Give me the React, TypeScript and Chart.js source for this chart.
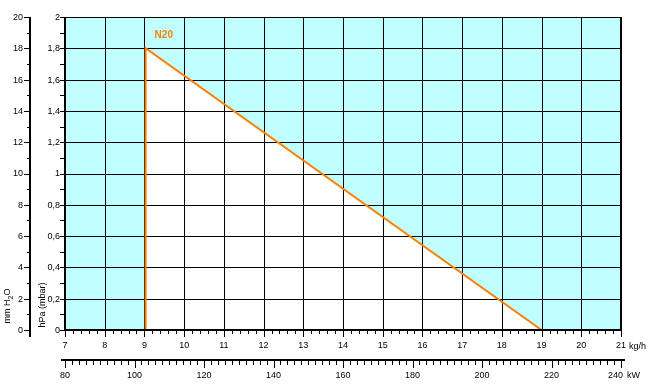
import React, { useEffect, useRef } from "react";
import { Chart, registerables } from "chart.js";

Chart.register(...registerables);

// ---- data ----
const seriesName = "N20";
const flowKgh = [9.03, 9.03, 19];
const pressureHpa = [0, 1.8, 0];

const kghTickLabels = ["7", "8", "9", "10", "11", "12", "13", "14", "15", "16", "17", "18", "19", "20", "21"];
const kwTickLabels = ["80", "100", "120", "140", "160", "180", "200", "220", "240"];
const hpaTickLabels = ["0", "0,2", "0,4", "0,6", "0,8", "1", "1,2", "1,4", "1,6", "1,8", "2"];
const mmTickLabels = ["0", "2", "4", "6", "8", "10", "12", "14", "16", "18", "20"];

const kghUnit = "kg/h";
const kwUnit = "kW";
const hpaTitle = "hPa (mbar)";

const CYAN = "#c0ffff";
const ORANGE = "#ff8000";
const FONT = "'Liberation Sans', Arial, sans-serif";

const num = (s: string) => Number(s.replace(",", "."));

const crisp = (v: number) => Math.round(v) + 0.5;

const customPlugin = {
  id: "customAxes",
  beforeDatasetsDraw(chart: any) {
    const { ctx, chartArea: a } = chart;
    ctx.save();
    ctx.fillStyle = CYAN;
    ctx.fillRect(a.left, a.top, a.right - a.left, a.bottom - a.top);
    ctx.restore();
  },
  afterDatasetDraw(chart: any, args: any) {
    if (args.index !== 0) return;
    const { ctx, chartArea: a } = chart;
    const xs = chart.scales.x;
    const ys = chart.scales.y;
    ctx.save();
    ctx.strokeStyle = "#000";
    ctx.lineWidth = 1;
    ctx.beginPath();
    kghTickLabels.forEach((l) => {
      const v = num(l);
      if (v === xs.min || v === xs.max) return;
      const px = crisp(xs.getPixelForValue(v));
      ctx.moveTo(px, a.top);
      ctx.lineTo(px, a.bottom);
    });
    hpaTickLabels.forEach((l) => {
      const v = num(l);
      if (v === ys.min) return;
      const py = crisp(ys.getPixelForValue(v));
      ctx.moveTo(a.left, py);
      ctx.lineTo(a.right, py);
    });
    ctx.stroke();
    // right border
    ctx.lineWidth = 2;
    ctx.beginPath();
    const rx = Math.round(xs.getPixelForValue(xs.max));
    ctx.moveTo(rx, a.top);
    ctx.lineTo(rx, a.bottom);
    ctx.stroke();
    ctx.restore();
  },
  afterDraw(chart: any) {
    const { ctx, chartArea: a } = chart;
    const xs = chart.scales.x;
    const xk = chart.scales.xKw;
    const ys = chart.scales.y;
    const ym = chart.scales.yMm;
    ctx.save();
    ctx.strokeStyle = "#000";
    ctx.fillStyle = "#000";
    ctx.font = `9px ${FONT}`;

    // hPa axis
    const hx = Math.round(a.left);
    ctx.lineWidth = 2;
    ctx.beginPath();
    ctx.moveTo(hx, a.top);
    ctx.lineTo(hx, a.bottom + 1);
    ctx.stroke();
    ctx.lineWidth = 1;
    ctx.beginPath();
    for (let v = ys.min; v <= ys.max + 1e-9; v += 0.1) {
      const py = crisp(ys.getPixelForValue(v));
      ctx.moveTo(hx - 5, py);
      ctx.lineTo(hx, py);
    }
    ctx.stroke();
    ctx.textAlign = "right";
    ctx.textBaseline = "middle";
    hpaTickLabels.forEach((l) => {
      ctx.fillText(l, hx - 5, ys.getPixelForValue(num(l)) + 0.5);
    });

    // mm H2O axis
    const mx = Math.round(a.left - 35);
    ctx.lineWidth = 2;
    ctx.beginPath();
    ctx.moveTo(mx, a.top);
    ctx.lineTo(mx, a.bottom + 7);
    ctx.stroke();
    ctx.lineWidth = 1;
    ctx.beginPath();
    for (let v = ym.min; v <= ym.max + 1e-9; v += 1) {
      const py = crisp(ym.getPixelForValue(v));
      const len = Math.round(v) % 2 === 0 ? 6 : 3;
      ctx.moveTo(mx - len, py);
      ctx.lineTo(mx, py);
    }
    ctx.stroke();
    mmTickLabels.forEach((l) => {
      ctx.fillText(l, mx - 7, ym.getPixelForValue(num(l)) + 0.5);
    });

    // kg/h axis
    const by = Math.round(a.bottom);
    ctx.lineWidth = 2;
    ctx.beginPath();
    ctx.moveTo(a.left - 1, by);
    ctx.lineTo(a.right + 1, by);
    ctx.stroke();
    ctx.lineWidth = 1;
    ctx.beginPath();
    for (let i = 0; i <= (xs.max - xs.min) * 5; i++) {
      const v = xs.min + i / 5;
      const px = crisp(xs.getPixelForValue(v));
      const len = i % 5 === 0 ? 7 : 4;
      ctx.moveTo(px, by);
      ctx.lineTo(px, by + len);
    }
    ctx.stroke();
    ctx.textAlign = "center";
    kghTickLabels.forEach((l) => {
      ctx.fillText(l, xs.getPixelForValue(num(l)), by + 16);
    });
    ctx.textAlign = "left";
    ctx.fillText(kghUnit, xs.getPixelForValue(xs.max) + 8, by + 17);

    // kW axis
    const ky = Math.round(a.bottom + 30);
    ctx.lineWidth = 2;
    ctx.beginPath();
    ctx.moveTo(a.left - 4, ky);
    ctx.lineTo(a.right + 4, ky);
    ctx.stroke();
    ctx.lineWidth = 1;
    ctx.beginPath();
    for (let i = 0; i <= (xk.max - xk.min) / 2; i++) {
      const v = xk.min + i * 2;
      const px = crisp(xk.getPixelForValue(v));
      const len = i % 10 === 0 ? 8 : 5;
      ctx.moveTo(px, ky);
      ctx.lineTo(px, ky + len);
    }
    ctx.stroke();
    kwTickLabels.forEach((l, i) => {
      const px = xk.getPixelForValue(num(l));
      if (i === kwTickLabels.length - 1) {
        ctx.textAlign = "right";
        ctx.fillText(l, px + 2, ky + 16);
      } else {
        ctx.textAlign = "center";
        ctx.fillText(l, px, ky + 16);
      }
    });
    ctx.textAlign = "left";
    ctx.fillText(kwUnit, xk.getPixelForValue(xk.max) + 6, ky + 16);

    // axis titles (rotated)
    ctx.save();
    ctx.translate(43, 305);
    ctx.rotate(-Math.PI / 2);
    ctx.textAlign = "center";
    ctx.textBaseline = "middle";
    ctx.font = `9px ${FONT}`;
    ctx.fillText(hpaTitle, 0, 0);
    ctx.restore();

    ctx.save();
    ctx.translate(8, 306);
    ctx.rotate(-Math.PI / 2);
    ctx.textBaseline = "middle";
    ctx.font = `9px ${FONT}`;
    const p1 = "mm H";
    const p3 = "O";
    ctx.font = `9px ${FONT}`;
    const w1 = ctx.measureText(p1).width;
    const w3 = ctx.measureText(p3).width;
    ctx.font = `7px ${FONT}`;
    const w2 = ctx.measureText("2").width;
    const total = w1 + w2 + w3;
    let x0 = -total / 2;
    ctx.textAlign = "left";
    ctx.font = `9px ${FONT}`;
    ctx.fillText(p1, x0, 0);
    ctx.font = `7px ${FONT}`;
    ctx.fillText("2", x0 + w1, 3);
    ctx.font = `9px ${FONT}`;
    ctx.fillText(p3, x0 + w1 + w2, 0);
    ctx.restore();

    // series label
    const apexX = xs.getPixelForValue(flowKgh[1]);
    const apexY = ys.getPixelForValue(pressureHpa[1]);
    ctx.font = `bold 10px ${FONT}`;
    ctx.fillStyle = ORANGE;
    ctx.textAlign = "left";
    ctx.textBaseline = "middle";
    ctx.fillText(seriesName, apexX + 9, apexY - 13);

    ctx.restore();
  },
};

export default function App() {
  const canvasRef = useRef<HTMLCanvasElement | null>(null);

  useEffect(() => {
    if (!canvasRef.current) return;
    const points = flowKgh.map((x, i) => ({ x, y: pressureHpa[i] }));
    const chart = new Chart(canvasRef.current, {
      type: "line",
      data: {
        datasets: [
          {
            label: seriesName + " area",
            data: points,
            fill: "origin",
            backgroundColor: "#ffffff",
            borderWidth: 0,
            borderColor: "rgba(0,0,0,0)",
            pointRadius: 0,
            tension: 0,
            order: 2,
          },
          {
            label: seriesName,
            data: points,
            fill: false,
            borderColor: ORANGE,
            borderWidth: 2,
            pointRadius: 0,
            tension: 0,
            order: 1,
          },
        ],
      },
      options: {
        animation: false,
        responsive: false,
        devicePixelRatio: 1,
        layout: { padding: { left: 65, top: 17, right: 27, bottom: 61 } },
        plugins: {
          legend: { display: false },
          tooltip: { enabled: false },
        },
        events: [],
        scales: {
          x: { type: "linear", min: 7, max: 21, display: false },
          xKw: { type: "linear", axis: "x", position: "bottom", min: 80, max: 240, display: false },
          y: { type: "linear", min: 0, max: 2, display: false },
          yMm: { type: "linear", axis: "y", position: "left", min: 0, max: 20, display: false },
        },
      },
      plugins: [customPlugin],
    } as any);
    return () => chart.destroy();
  }, []);

  return (
    <div style={{ position: "absolute", left: 0, top: 0, width: 648, height: 391, background: "#fff" }}>
      <canvas ref={canvasRef} width={648} height={391} style={{ display: "block" }} />
    </div>
  );
}
